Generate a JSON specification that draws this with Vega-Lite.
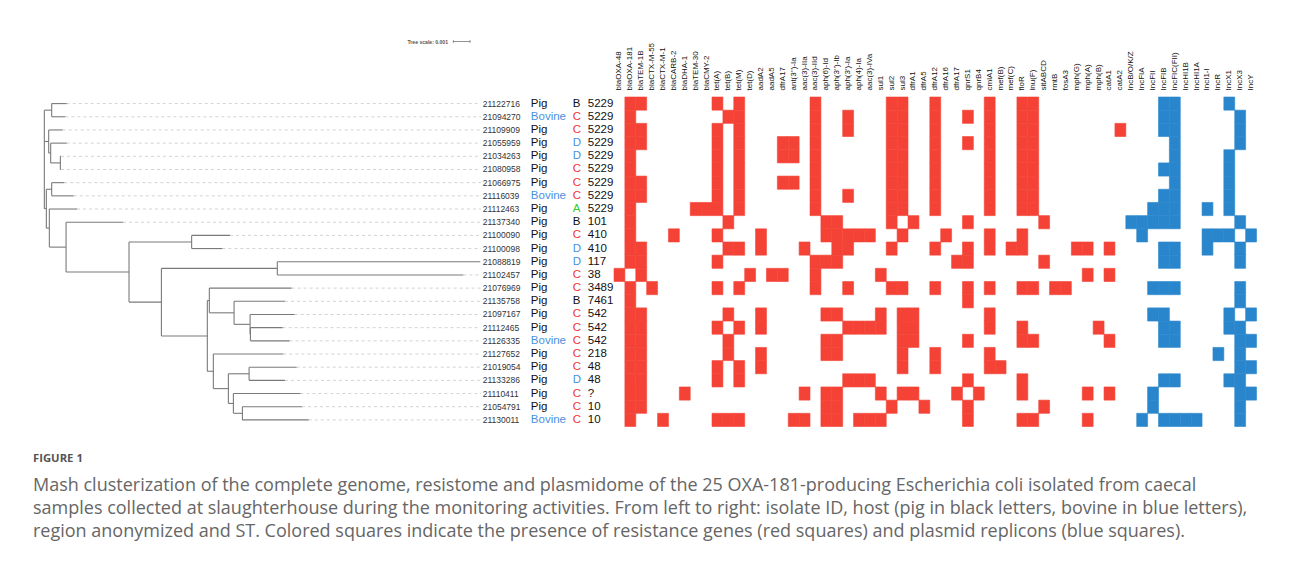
{
"$schema":"https://vega.github.io/schema/vega-lite/v6.json",
"background":"white",
"padding":{"left":10,"top":39,"right":0,"bottom":0},
"config":{"view":{"stroke":null},"font":"Liberation Sans"},
"datasets":{
"isolates":[
{"row":1,"id":"21122716","host":"Pig","region":"B","st":"5229","parent":0.44,"tip":1.34},
{"row":2,"id":"21094270","host":"Bovine","region":"C","st":"5229","parent":0.44,"tip":1.26},
{"row":3,"id":"21109909","host":"Pig","region":"C","st":"5229","parent":0.26,"tip":1.10},
{"row":4,"id":"21055959","host":"Pig","region":"D","st":"5229","parent":0.38,"tip":1.34},
{"row":5,"id":"21034263","host":"Pig","region":"D","st":"5229","parent":0.96,"tip":1.00},
{"row":6,"id":"21080958","host":"Pig","region":"C","st":"5229","parent":0.96,"tip":1.00},
{"row":7,"id":"21066975","host":"Pig","region":"C","st":"5229","parent":0.44,"tip":1.20},
{"row":8,"id":"21116039","host":"Bovine","region":"C","st":"5229","parent":0.44,"tip":1.76},
{"row":9,"id":"21112463","host":"Pig","region":"A","st":"5229","parent":0.30,"tip":1.96},
{"row":10,"id":"21137340","host":"Pig","region":"B","st":"101","parent":1.30,"tip":4.71},
{"row":11,"id":"21100090","host":"Pig","region":"C","st":"410","parent":8.82,"tip":11.12},
{"row":12,"id":"21100098","host":"Pig","region":"D","st":"410","parent":8.82,"tip":10.66},
{"row":13,"id":"21088819","host":"Pig","region":"D","st":"117","parent":13.95,"tip":26.09},
{"row":14,"id":"21102457","host":"Pig","region":"C","st":"38","parent":13.95,"tip":25.09},
{"row":15,"id":"21076969","host":"Pig","region":"C","st":"3489","parent":9.88,"tip":14.81},
{"row":16,"id":"21135758","host":"Pig","region":"B","st":"7461","parent":11.36,"tip":14.41},
{"row":17,"id":"21097167","host":"Pig","region":"C","st":"542","parent":12.32,"tip":14.99},
{"row":18,"id":"21112465","host":"Pig","region":"C","st":"542","parent":12.34,"tip":14.27},
{"row":19,"id":"21126335","host":"Bovine","region":"C","st":"542","parent":12.34,"tip":14.69},
{"row":20,"id":"21127652","host":"Pig","region":"C","st":"218","parent":10.12,"tip":14.31},
{"row":21,"id":"21019054","host":"Pig","region":"C","st":"48","parent":12.26,"tip":15.11},
{"row":22,"id":"21133286","host":"Pig","region":"D","st":"48","parent":12.26,"tip":14.41},
{"row":23,"id":"21110411","host":"Pig","region":"C","st":"?","parent":11.32,"tip":15.33},
{"row":24,"id":"21054791","host":"Pig","region":"C","st":"10","parent":11.86,"tip":15.43},
{"row":25,"id":"21130011","host":"Bovine","region":"C","st":"10","parent":11.86,"tip":15.83}
],
"branches":[
{"x":0,"x2":0,"y":1.5,"y2":8.97},
{"x":0.44,"x2":0.44,"y":1,"y2":2},
{"x":0.26,"x2":0.26,"y":3,"y2":4.75},
{"x":0.38,"x2":0.38,"y":4,"y2":5.5},
{"x":0.96,"x2":0.96,"y":5,"y2":6},
{"x":0.12,"x2":0.12,"y":7.5,"y2":10.45},
{"x":0.44,"x2":0.44,"y":7,"y2":8},
{"x":0.30,"x2":0.30,"y":9,"y2":11.89},
{"x":1.30,"x2":1.30,"y":10,"y2":13.78},
{"x":5.07,"x2":5.07,"y":11.5,"y2":16.06},
{"x":8.82,"x2":8.82,"y":11,"y2":12},
{"x":7.01,"x2":7.01,"y":13.5,"y2":18.63},
{"x":13.95,"x2":13.95,"y":13,"y2":14},
{"x":9.76,"x2":9.76,"y":15.94,"y2":21.31},
{"x":9.88,"x2":9.88,"y":15,"y2":16.875},
{"x":11.36,"x2":11.36,"y":16,"y2":17.75},
{"x":12.32,"x2":12.32,"y":17,"y2":18.5},
{"x":12.34,"x2":12.34,"y":18,"y2":19},
{"x":10.12,"x2":10.12,"y":20,"y2":22.625},
{"x":11.02,"x2":11.02,"y":21.5,"y2":23.75},
{"x":12.26,"x2":12.26,"y":21,"y2":22},
{"x":11.32,"x2":11.32,"y":23,"y2":24.5},
{"x":11.86,"x2":11.86,"y":24,"y2":25},
{"x":0,"x2":0.44,"y":1.5,"y2":1.5},
{"x":0,"x2":0.26,"y":3.875,"y2":3.875},
{"x":0.26,"x2":0.38,"y":4.75,"y2":4.75},
{"x":0.38,"x2":0.96,"y":5.5,"y2":5.5},
{"x":0,"x2":0.12,"y":8.97,"y2":8.97},
{"x":0.12,"x2":0.44,"y":7.5,"y2":7.5},
{"x":0.12,"x2":0.30,"y":10.45,"y2":10.45},
{"x":0.30,"x2":1.30,"y":11.89,"y2":11.89},
{"x":1.30,"x2":5.07,"y":13.78,"y2":13.78},
{"x":5.07,"x2":8.82,"y":11.5,"y2":11.5},
{"x":5.07,"x2":7.01,"y":16.06,"y2":16.06},
{"x":7.01,"x2":13.95,"y":13.5,"y2":13.5},
{"x":7.01,"x2":9.76,"y":18.63,"y2":18.63},
{"x":9.76,"x2":9.88,"y":15.94,"y2":15.94},
{"x":9.88,"x2":11.36,"y":16.875,"y2":16.875},
{"x":11.36,"x2":12.32,"y":17.75,"y2":17.75},
{"x":12.32,"x2":12.34,"y":18.5,"y2":18.5},
{"x":9.76,"x2":10.12,"y":21.31,"y2":21.31},
{"x":10.12,"x2":11.02,"y":22.625,"y2":22.625},
{"x":11.02,"x2":12.26,"y":21.5,"y2":21.5},
{"x":11.02,"x2":11.32,"y":23.75,"y2":23.75},
{"x":11.32,"x2":11.86,"y":24.5,"y2":24.5}
],
"scalebar":[
{"x":24.49,"x2":25.49,"y":-3.71,"y2":-3.71},
{"x":24.49,"x2":24.49,"y":-3.82,"y2":-3.60},
{"x":25.49,"x2":25.49,"y":-3.82,"y2":-3.60}
],
"caption":[
{"line":1,"text":"Mash clusterization of the complete genome, resistome and plasmidome of the 25 OXA-181-producing Escherichia coli isolated from caecal"},
{"line":2,"text":"samples collected at slaughterhouse during the monitoring activities. From left to right: isolate ID, host (pig in black letters, bovine in blue letters),"},
{"line":3,"text":"region anonymized and ST. Colored squares indicate the presence of resistance genes (red squares) and plasmid replicons (blue squares)."}
],
"cells":[
{"row":1,"gene":"blaOXA-181","type":"gene"},{"row":1,"gene":"blaTEM-1B","type":"gene"},{"row":1,"gene":"tet(A)","type":"gene"},{"row":1,"gene":"tet(M)","type":"gene"},{"row":1,"gene":"aac(3)-IId","type":"gene"},{"row":1,"gene":"sul2","type":"gene"},{"row":1,"gene":"sul3","type":"gene"},{"row":1,"gene":"dfrA12","type":"gene"},{"row":1,"gene":"cmlA1","type":"gene"},{"row":1,"gene":"floR","type":"gene"},{"row":1,"gene":"lnu(F)","type":"gene"},{"row":1,"gene":"IncFIB","type":"replicon"},{"row":1,"gene":"IncFIC(FII)","type":"replicon"},{"row":1,"gene":"IncX1","type":"replicon"},
{"row":2,"gene":"blaOXA-181","type":"gene"},{"row":2,"gene":"tet(B)","type":"gene"},{"row":2,"gene":"tet(M)","type":"gene"},{"row":2,"gene":"aac(3)-IId","type":"gene"},{"row":2,"gene":"aph(3')-Ia","type":"gene"},{"row":2,"gene":"sul2","type":"gene"},{"row":2,"gene":"sul3","type":"gene"},{"row":2,"gene":"dfrA12","type":"gene"},{"row":2,"gene":"qnrS1","type":"gene"},{"row":2,"gene":"cmlA1","type":"gene"},{"row":2,"gene":"floR","type":"gene"},{"row":2,"gene":"lnu(F)","type":"gene"},{"row":2,"gene":"IncFIB","type":"replicon"},{"row":2,"gene":"IncFIC(FII)","type":"replicon"},{"row":2,"gene":"IncX3","type":"replicon"},
{"row":3,"gene":"blaOXA-181","type":"gene"},{"row":3,"gene":"blaTEM-1B","type":"gene"},{"row":3,"gene":"tet(A)","type":"gene"},{"row":3,"gene":"tet(M)","type":"gene"},{"row":3,"gene":"aac(3)-IId","type":"gene"},{"row":3,"gene":"aph(3')-Ia","type":"gene"},{"row":3,"gene":"sul2","type":"gene"},{"row":3,"gene":"sul3","type":"gene"},{"row":3,"gene":"dfrA12","type":"gene"},{"row":3,"gene":"cmlA1","type":"gene"},{"row":3,"gene":"floR","type":"gene"},{"row":3,"gene":"lnu(F)","type":"gene"},{"row":3,"gene":"catA2","type":"gene"},{"row":3,"gene":"IncFIB","type":"replicon"},{"row":3,"gene":"IncFIC(FII)","type":"replicon"},{"row":3,"gene":"IncX3","type":"replicon"},
{"row":4,"gene":"blaOXA-181","type":"gene"},{"row":4,"gene":"blaTEM-1B","type":"gene"},{"row":4,"gene":"tet(A)","type":"gene"},{"row":4,"gene":"tet(M)","type":"gene"},{"row":4,"gene":"dfrA17","type":"gene"},{"row":4,"gene":"ant(3'')-Ia","type":"gene"},{"row":4,"gene":"aac(3)-IId","type":"gene"},{"row":4,"gene":"sul2","type":"gene"},{"row":4,"gene":"sul3","type":"gene"},{"row":4,"gene":"dfrA12","type":"gene"},{"row":4,"gene":"qnrS1","type":"gene"},{"row":4,"gene":"cmlA1","type":"gene"},{"row":4,"gene":"floR","type":"gene"},{"row":4,"gene":"lnu(F)","type":"gene"},{"row":4,"gene":"IncFIC(FII)","type":"replicon"},{"row":4,"gene":"IncX3","type":"replicon"},
{"row":5,"gene":"blaOXA-181","type":"gene"},{"row":5,"gene":"tet(A)","type":"gene"},{"row":5,"gene":"tet(M)","type":"gene"},{"row":5,"gene":"dfrA17","type":"gene"},{"row":5,"gene":"ant(3'')-Ia","type":"gene"},{"row":5,"gene":"aac(3)-IId","type":"gene"},{"row":5,"gene":"sul2","type":"gene"},{"row":5,"gene":"sul3","type":"gene"},{"row":5,"gene":"dfrA12","type":"gene"},{"row":5,"gene":"cmlA1","type":"gene"},{"row":5,"gene":"floR","type":"gene"},{"row":5,"gene":"lnu(F)","type":"gene"},{"row":5,"gene":"IncFIC(FII)","type":"replicon"},{"row":5,"gene":"IncX1","type":"replicon"},
{"row":6,"gene":"blaOXA-181","type":"gene"},{"row":6,"gene":"tet(A)","type":"gene"},{"row":6,"gene":"tet(M)","type":"gene"},{"row":6,"gene":"aac(3)-IId","type":"gene"},{"row":6,"gene":"sul2","type":"gene"},{"row":6,"gene":"sul3","type":"gene"},{"row":6,"gene":"dfrA12","type":"gene"},{"row":6,"gene":"cmlA1","type":"gene"},{"row":6,"gene":"floR","type":"gene"},{"row":6,"gene":"lnu(F)","type":"gene"},{"row":6,"gene":"IncFIB","type":"replicon"},{"row":6,"gene":"IncFIC(FII)","type":"replicon"},{"row":6,"gene":"IncX1","type":"replicon"},
{"row":7,"gene":"blaOXA-181","type":"gene"},{"row":7,"gene":"blaTEM-1B","type":"gene"},{"row":7,"gene":"tet(A)","type":"gene"},{"row":7,"gene":"tet(M)","type":"gene"},{"row":7,"gene":"dfrA17","type":"gene"},{"row":7,"gene":"ant(3'')-Ia","type":"gene"},{"row":7,"gene":"aac(3)-IId","type":"gene"},{"row":7,"gene":"sul2","type":"gene"},{"row":7,"gene":"sul3","type":"gene"},{"row":7,"gene":"dfrA12","type":"gene"},{"row":7,"gene":"cmlA1","type":"gene"},{"row":7,"gene":"floR","type":"gene"},{"row":7,"gene":"lnu(F)","type":"gene"},{"row":7,"gene":"IncFIC(FII)","type":"replicon"},{"row":7,"gene":"IncX1","type":"replicon"},
{"row":8,"gene":"blaOXA-181","type":"gene"},{"row":8,"gene":"blaTEM-1B","type":"gene"},{"row":8,"gene":"tet(A)","type":"gene"},{"row":8,"gene":"tet(M)","type":"gene"},{"row":8,"gene":"aac(3)-IId","type":"gene"},{"row":8,"gene":"aph(3')-Ia","type":"gene"},{"row":8,"gene":"sul2","type":"gene"},{"row":8,"gene":"sul3","type":"gene"},{"row":8,"gene":"dfrA12","type":"gene"},{"row":8,"gene":"cmlA1","type":"gene"},{"row":8,"gene":"floR","type":"gene"},{"row":8,"gene":"lnu(F)","type":"gene"},{"row":8,"gene":"IncFIB","type":"replicon"},{"row":8,"gene":"IncFIC(FII)","type":"replicon"},{"row":8,"gene":"IncX1","type":"replicon"},
{"row":9,"gene":"blaOXA-181","type":"gene"},{"row":9,"gene":"blaTEM-30","type":"gene"},{"row":9,"gene":"blaCMY-2","type":"gene"},{"row":9,"gene":"tet(A)","type":"gene"},{"row":9,"gene":"tet(M)","type":"gene"},{"row":9,"gene":"aac(3)-IId","type":"gene"},{"row":9,"gene":"sul2","type":"gene"},{"row":9,"gene":"sul3","type":"gene"},{"row":9,"gene":"dfrA12","type":"gene"},{"row":9,"gene":"cmlA1","type":"gene"},{"row":9,"gene":"floR","type":"gene"},{"row":9,"gene":"lnu(F)","type":"gene"},{"row":9,"gene":"IncFII","type":"replicon"},{"row":9,"gene":"IncFIB","type":"replicon"},{"row":9,"gene":"IncFIC(FII)","type":"replicon"},{"row":9,"gene":"IncI1-I","type":"replicon"},{"row":9,"gene":"IncX1","type":"replicon"},
{"row":10,"gene":"blaOXA-181","type":"gene"},{"row":10,"gene":"tet(B)","type":"gene"},{"row":10,"gene":"aph(6)-Id","type":"gene"},{"row":10,"gene":"aph(3'')-Ib","type":"gene"},{"row":10,"gene":"sul2","type":"gene"},{"row":10,"gene":"dfrA1","type":"gene"},{"row":10,"gene":"qnrS1","type":"gene"},{"row":10,"gene":"sitABCD","type":"gene"},{"row":10,"gene":"IncB/O/K/Z","type":"replicon"},{"row":10,"gene":"IncFIA","type":"replicon"},{"row":10,"gene":"IncFII","type":"replicon"},{"row":10,"gene":"IncFIB","type":"replicon"},{"row":10,"gene":"IncFIC(FII)","type":"replicon"},{"row":10,"gene":"IncX3","type":"replicon"},
{"row":11,"gene":"blaOXA-181","type":"gene"},{"row":11,"gene":"blaCARB-2","type":"gene"},{"row":11,"gene":"tet(A)","type":"gene"},{"row":11,"gene":"aadA2","type":"gene"},{"row":11,"gene":"aph(6)-Id","type":"gene"},{"row":11,"gene":"aph(3'')-Ib","type":"gene"},{"row":11,"gene":"aph(3')-Ia","type":"gene"},{"row":11,"gene":"aph(4)-Ia","type":"gene"},{"row":11,"gene":"aac(3)-IVa","type":"gene"},{"row":11,"gene":"sul3","type":"gene"},{"row":11,"gene":"dfrA16","type":"gene"},{"row":11,"gene":"cmlA1","type":"gene"},{"row":11,"gene":"floR","type":"gene"},{"row":11,"gene":"IncFIA","type":"replicon"},{"row":11,"gene":"IncI1-I","type":"replicon"},{"row":11,"gene":"IncR","type":"replicon"},{"row":11,"gene":"IncX1","type":"replicon"},{"row":11,"gene":"IncY","type":"replicon"},
{"row":12,"gene":"blaOXA-181","type":"gene"},{"row":12,"gene":"blaTEM-1B","type":"gene"},{"row":12,"gene":"tet(B)","type":"gene"},{"row":12,"gene":"tet(M)","type":"gene"},{"row":12,"gene":"aadA2","type":"gene"},{"row":12,"gene":"aac(3)-IIa","type":"gene"},{"row":12,"gene":"aph(3'')-Ib","type":"gene"},{"row":12,"gene":"aph(3')-Ia","type":"gene"},{"row":12,"gene":"sul2","type":"gene"},{"row":12,"gene":"dfrA12","type":"gene"},{"row":12,"gene":"qnrS1","type":"gene"},{"row":12,"gene":"cmlA1","type":"gene"},{"row":12,"gene":"mef(C)","type":"gene"},{"row":12,"gene":"floR","type":"gene"},{"row":12,"gene":"mph(G)","type":"gene"},{"row":12,"gene":"mph(A)","type":"gene"},{"row":12,"gene":"catA1","type":"gene"},{"row":12,"gene":"IncFIB","type":"replicon"},{"row":12,"gene":"IncFIC(FII)","type":"replicon"},{"row":12,"gene":"IncI1-I","type":"replicon"},{"row":12,"gene":"IncX3","type":"replicon"},
{"row":13,"gene":"blaOXA-181","type":"gene"},{"row":13,"gene":"blaTEM-1B","type":"gene"},{"row":13,"gene":"tet(A)","type":"gene"},{"row":13,"gene":"aac(3)-IId","type":"gene"},{"row":13,"gene":"aph(6)-Id","type":"gene"},{"row":13,"gene":"aph(3'')-Ib","type":"gene"},{"row":13,"gene":"dfrA17 ","type":"gene"},{"row":13,"gene":"qnrS1","type":"gene"},{"row":13,"gene":"sitABCD","type":"gene"},{"row":13,"gene":"IncFIB","type":"replicon"},{"row":13,"gene":"IncFIC(FII)","type":"replicon"},{"row":13,"gene":"IncX3","type":"replicon"},
{"row":14,"gene":"blaOXA-48","type":"gene"},{"row":14,"gene":"blaTEM-1B","type":"gene"},{"row":14,"gene":"tet(D)","type":"gene"},{"row":14,"gene":"aadA5","type":"gene"},{"row":14,"gene":"dfrA17","type":"gene"},{"row":14,"gene":"aac(3)-IId","type":"gene"},{"row":14,"gene":"sul1","type":"gene"},{"row":14,"gene":"mph(A)","type":"gene"},{"row":14,"gene":"catA1","type":"gene"},
{"row":15,"gene":"blaOXA-181","type":"gene"},{"row":15,"gene":"blaCTX-M-55","type":"gene"},{"row":15,"gene":"tet(A)","type":"gene"},{"row":15,"gene":"tet(M)","type":"gene"},{"row":15,"gene":"aac(3)-IId","type":"gene"},{"row":15,"gene":"aph(3')-Ia","type":"gene"},{"row":15,"gene":"sul2","type":"gene"},{"row":15,"gene":"sul3","type":"gene"},{"row":15,"gene":"dfrA12","type":"gene"},{"row":15,"gene":"qnrS1","type":"gene"},{"row":15,"gene":"cmlA1","type":"gene"},{"row":15,"gene":"floR","type":"gene"},{"row":15,"gene":"lnu(F)","type":"gene"},{"row":15,"gene":"rmtB","type":"gene"},{"row":15,"gene":"fosA3","type":"gene"},{"row":15,"gene":"IncFII","type":"replicon"},{"row":15,"gene":"IncFIB","type":"replicon"},{"row":15,"gene":"IncFIC(FII)","type":"replicon"},{"row":15,"gene":"IncX3","type":"replicon"},
{"row":16,"gene":"blaOXA-181","type":"gene"},{"row":16,"gene":"qnrS1","type":"gene"},{"row":16,"gene":"IncX3","type":"replicon"},
{"row":17,"gene":"blaOXA-181","type":"gene"},{"row":17,"gene":"blaTEM-1B","type":"gene"},{"row":17,"gene":"tet(B)","type":"gene"},{"row":17,"gene":"aadA2","type":"gene"},{"row":17,"gene":"aph(6)-Id","type":"gene"},{"row":17,"gene":"aph(3'')-Ib","type":"gene"},{"row":17,"gene":"sul1","type":"gene"},{"row":17,"gene":"sul3","type":"gene"},{"row":17,"gene":"dfrA1","type":"gene"},{"row":17,"gene":"cmlA1","type":"gene"},{"row":17,"gene":"IncFII","type":"replicon"},{"row":17,"gene":"IncFIB","type":"replicon"},{"row":17,"gene":"IncX1","type":"replicon"},{"row":17,"gene":"IncY","type":"replicon"},
{"row":18,"gene":"blaOXA-181","type":"gene"},{"row":18,"gene":"blaTEM-1B","type":"gene"},{"row":18,"gene":"tet(A)","type":"gene"},{"row":18,"gene":"tet(M)","type":"gene"},{"row":18,"gene":"aadA2","type":"gene"},{"row":18,"gene":"aph(3')-Ia","type":"gene"},{"row":18,"gene":"aph(4)-Ia","type":"gene"},{"row":18,"gene":"aac(3)-IVa","type":"gene"},{"row":18,"gene":"sul1","type":"gene"},{"row":18,"gene":"sul3","type":"gene"},{"row":18,"gene":"dfrA1","type":"gene"},{"row":18,"gene":"cmlA1","type":"gene"},{"row":18,"gene":"floR","type":"gene"},{"row":18,"gene":"mph(B)","type":"gene"},{"row":18,"gene":"IncFIB","type":"replicon"},{"row":18,"gene":"IncFIC(FII)","type":"replicon"},{"row":18,"gene":"IncX1","type":"replicon"},{"row":18,"gene":"IncX3","type":"replicon"},
{"row":19,"gene":"blaOXA-181","type":"gene"},{"row":19,"gene":"blaTEM-1B","type":"gene"},{"row":19,"gene":"tet(B)","type":"gene"},{"row":19,"gene":"aph(6)-Id","type":"gene"},{"row":19,"gene":"aph(3'')-Ib","type":"gene"},{"row":19,"gene":"sul3","type":"gene"},{"row":19,"gene":"dfrA1","type":"gene"},{"row":19,"gene":"qnrS1","type":"gene"},{"row":19,"gene":"floR","type":"gene"},{"row":19,"gene":"lnu(F)","type":"gene"},{"row":19,"gene":"catA1","type":"gene"},{"row":19,"gene":"IncFIB","type":"replicon"},{"row":19,"gene":"IncFIC(FII)","type":"replicon"},{"row":19,"gene":"IncX3","type":"replicon"},{"row":19,"gene":"IncY","type":"replicon"},
{"row":20,"gene":"blaOXA-181","type":"gene"},{"row":20,"gene":"blaTEM-1B","type":"gene"},{"row":20,"gene":"tet(B)","type":"gene"},{"row":20,"gene":"aadA2","type":"gene"},{"row":20,"gene":"aph(6)-Id","type":"gene"},{"row":20,"gene":"aph(3'')-Ib","type":"gene"},{"row":20,"gene":"sul3","type":"gene"},{"row":20,"gene":"dfrA12","type":"gene"},{"row":20,"gene":"cmlA1","type":"gene"},{"row":20,"gene":"IncR","type":"replicon"},{"row":20,"gene":"IncX3","type":"replicon"},
{"row":21,"gene":"blaOXA-181","type":"gene"},{"row":21,"gene":"blaTEM-1B","type":"gene"},{"row":21,"gene":"tet(A)","type":"gene"},{"row":21,"gene":"tet(M)","type":"gene"},{"row":21,"gene":"aadA2","type":"gene"},{"row":21,"gene":"sul3","type":"gene"},{"row":21,"gene":"dfrA12","type":"gene"},{"row":21,"gene":"cmlA1","type":"gene"},{"row":21,"gene":"mef(B)","type":"gene"},{"row":21,"gene":"IncX3","type":"replicon"},{"row":21,"gene":"IncY","type":"replicon"},
{"row":22,"gene":"blaOXA-181","type":"gene"},{"row":22,"gene":"blaTEM-1B","type":"gene"},{"row":22,"gene":"tet(A)","type":"gene"},{"row":22,"gene":"tet(M)","type":"gene"},{"row":22,"gene":"aph(3')-Ia","type":"gene"},{"row":22,"gene":"aph(4)-Ia","type":"gene"},{"row":22,"gene":"aac(3)-IVa","type":"gene"},{"row":22,"gene":"qnrS1","type":"gene"},{"row":22,"gene":"floR","type":"gene"},{"row":22,"gene":"IncFIB","type":"replicon"},{"row":22,"gene":"IncFIC(FII)","type":"replicon"},{"row":22,"gene":"IncX1","type":"replicon"},{"row":22,"gene":"IncX3","type":"replicon"},
{"row":23,"gene":"blaOXA-181","type":"gene"},{"row":23,"gene":"blaTEM-1B","type":"gene"},{"row":23,"gene":"blaDHA-1","type":"gene"},{"row":23,"gene":"aac(3)-IIa","type":"gene"},{"row":23,"gene":"aph(6)-Id","type":"gene"},{"row":23,"gene":"aph(3'')-Ib","type":"gene"},{"row":23,"gene":"sul1","type":"gene"},{"row":23,"gene":"sul3","type":"gene"},{"row":23,"gene":"dfrA1","type":"gene"},{"row":23,"gene":"dfrA17 ","type":"gene"},{"row":23,"gene":"qnrB4","type":"gene"},{"row":23,"gene":"floR","type":"gene"},{"row":23,"gene":"mph(A)","type":"gene"},{"row":23,"gene":"catA1","type":"gene"},{"row":23,"gene":"IncFII","type":"replicon"},{"row":23,"gene":"IncX3","type":"replicon"},{"row":23,"gene":"IncY","type":"replicon"},
{"row":24,"gene":"blaOXA-181","type":"gene"},{"row":24,"gene":"blaTEM-1B","type":"gene"},{"row":24,"gene":"aph(6)-Id","type":"gene"},{"row":24,"gene":"aph(3'')-Ib","type":"gene"},{"row":24,"gene":"sul2","type":"gene"},{"row":24,"gene":"dfrA5","type":"gene"},{"row":24,"gene":"qnrS1","type":"gene"},{"row":24,"gene":"sitABCD","type":"gene"},{"row":24,"gene":"IncFII","type":"replicon"},{"row":24,"gene":"IncX3","type":"replicon"},
{"row":25,"gene":"blaOXA-181","type":"gene"},{"row":25,"gene":"blaCTX-M-1","type":"gene"},{"row":25,"gene":"tet(A)","type":"gene"},{"row":25,"gene":"tet(B)","type":"gene"},{"row":25,"gene":"tet(M)","type":"gene"},{"row":25,"gene":"ant(3'')-Ia","type":"gene"},{"row":25,"gene":"aac(3)-IIa","type":"gene"},{"row":25,"gene":"aph(6)-Id","type":"gene"},{"row":25,"gene":"aph(3'')-Ib","type":"gene"},{"row":25,"gene":"aph(4)-Ia","type":"gene"},{"row":25,"gene":"aac(3)-IVa","type":"gene"},{"row":25,"gene":"sul1","type":"gene"},{"row":25,"gene":"qnrS1","type":"gene"},{"row":25,"gene":"floR","type":"gene"},{"row":25,"gene":"lnu(F)","type":"gene"},{"row":25,"gene":"mph(A)","type":"gene"},{"row":25,"gene":"IncFIA","type":"replicon"},{"row":25,"gene":"IncFIB","type":"replicon"},{"row":25,"gene":"IncFIC(FII)","type":"replicon"},{"row":25,"gene":"IncHI1B","type":"replicon"},{"row":25,"gene":"IncHI1A","type":"replicon"},{"row":25,"gene":"IncX3","type":"replicon"}
]
},
"spacing":25.5,
"vconcat":[
{"hconcat":[
{"width":604,"height":329.5,
"layer":[
{"data":{"name":"isolates"},"mark":{"type":"rule","color":"#d2d2d2","strokeDash":[3,3],"strokeWidth":1},
"encoding":{"x":{"field":"tip","type":"quantitative","scale":{"domain":[-2.056,34.11],"nice":false,"zero":false},"axis":null},"x2":{"datum":26.15},"y":{"field":"row","type":"quantitative","scale":{"domain":[0.5,25.5],"reverse":true,"nice":false,"zero":false},"axis":null}}},
{"data":{"name":"isolates"},"mark":{"type":"rule","color":"#7a7a7a","strokeWidth":1.1},
"encoding":{"x":{"field":"parent","type":"quantitative","axis":null},"x2":{"field":"tip"},"y":{"field":"row","type":"quantitative","axis":null}}},
{"data":{"name":"branches"},"mark":{"type":"rule","color":"#7a7a7a","strokeWidth":1.1},
"encoding":{"x":{"field":"x","type":"quantitative","axis":null},"x2":{"field":"x2"},"y":{"field":"y","type":"quantitative","axis":null},"y2":{"field":"y2"}}},
{"data":{"name":"scalebar"},"mark":{"type":"rule","color":"#777777","strokeWidth":0.8},
"encoding":{"x":{"field":"x","type":"quantitative","axis":null},"x2":{"field":"x2"},"y":{"field":"y","type":"quantitative","axis":null},"y2":{"field":"y2"}}},
{"data":{"values":[{"label":"Tree scale: 0.001"}]},"mark":{"type":"text","align":"right","baseline":"middle","fontSize":5.1,"fontWeight":"bold","color":"#555555"},
"encoding":{"x":{"datum":24.17,"type":"quantitative","axis":null},"y":{"datum":-3.71,"type":"quantitative","axis":null},"text":{"field":"label"}}},
{"data":{"name":"isolates"},"mark":{"type":"text","align":"left","baseline":"middle","fontSize":8.5,"color":"#333333"},
"encoding":{"x":{"datum":26.25,"type":"quantitative","axis":null},"y":{"field":"row","type":"quantitative","axis":null},"text":{"field":"id"}}},
{"data":{"name":"isolates"},"mark":{"type":"text","align":"left","baseline":"middle","fontSize":11.5},
"encoding":{"x":{"datum":29.13,"type":"quantitative","axis":null},"y":{"field":"row","type":"quantitative","axis":null},"text":{"field":"host"},"color":{"condition":{"test":"datum.host === 'Bovine'","value":"#4a90e2"},"value":"#111111"}}},
{"data":{"name":"isolates"},"mark":{"type":"text","align":"left","baseline":"middle","fontSize":11.5},
"encoding":{"x":{"datum":31.64,"type":"quantitative","axis":null},"y":{"field":"row","type":"quantitative","axis":null},"text":{"field":"region"},"color":{"condition":[{"test":"datum.region === 'C'","value":"#f03434"},{"test":"datum.region === 'D'","value":"#4a90e2"},{"test":"datum.region === 'A'","value":"#33cc33"}],"value":"#111111"}}},
{"data":{"name":"isolates"},"mark":{"type":"text","align":"left","baseline":"middle","fontSize":11.5,"color":"#111111"},
"encoding":{"x":{"datum":32.54,"type":"quantitative","axis":null},"y":{"field":"row","type":"quantitative","axis":null},"text":{"field":"st"}}}
]},
{"width":642.5,"height":329.5,
"data":{"name":"cells"},
"mark":{"type":"rect","strokeWidth":0.6},
"encoding":{
"x":{"field":"gene","type":"nominal","scale":{"domain":["blaOXA-48","blaOXA-181","blaTEM-1B","blaCTX-M-55","blaCTX-M-1","blaCARB-2","blaDHA-1","blaTEM-30","blaCMY-2","tet(A)","tet(B)","tet(M)","tet(D)","aadA2","aadA5","dfrA17","ant(3'')-Ia","aac(3)-IIa","aac(3)-IId","aph(6)-Id","aph(3'')-Ib","aph(3')-Ia","aph(4)-Ia","aac(3)-IVa","sul1","sul2","sul3","dfrA1","dfrA5","dfrA12","dfrA16","dfrA17 ","qnrS1","qnrB4","cmlA1","mef(B)","mef(C)","floR","lnu(F)","sitABCD","rmtB","fosA3","mph(G)","mph(A)","mph(B)","catA1","catA2","IncB/O/K/Z","IncFIA","IncFII","IncFIB","IncFIC(FII)","IncHI1B","IncHI1A","IncI1-I","IncR","IncX1","IncX3","IncY"],"paddingInner":0,"paddingOuter":0},
"axis":{"orient":"top","title":null,"labelAngle":-90,"ticks":false,"tickSize":0,"domain":false,"labelPadding":7,"labelFontSize":8,"labelFont":"Liberation Sans","labelColor":"#111111","labelOverlap":false,"labelLimit":0}},
"y":{"field":"row","type":"ordinal","scale":{"domain":[1,2,3,4,5,6,7,8,9,10,11,12,13,14,15,16,17,18,19,20,21,22,23,24,25],"paddingInner":0,"paddingOuter":0},"axis":null},
"color":{"field":"type","type":"nominal","scale":{"domain":["gene","replicon"],"range":["#f44336","#2a86cc"]},"legend":null},
"stroke":{"field":"type","type":"nominal","scale":{"domain":["gene","replicon"],"range":["#f44336","#2a86cc"]},"legend":null}
}}
],"spacing":0,"bounds":"flush"},
{"width":1260,"height":69,
"title":{"text":"FIGURE 1","anchor":"start","frame":"group","dx":23,"fontSize":11.3,"fontWeight":"bold","color":"#555555","font":"Open Sans","baseline":"alphabetic","offset":1},
"data":{"name":"caption"},
"mark":{"type":"text","align":"left","baseline":"middle","dx":23,"font":"Open Sans","fontSize":18,"color":"#666666"},
"encoding":{
"x":{"datum":0,"type":"quantitative","scale":{"domain":[0,1]},"axis":null},
"y":{"field":"line","type":"ordinal","scale":{"paddingInner":0,"paddingOuter":0},"axis":null},
"text":{"field":"text"}
}}
]
}
